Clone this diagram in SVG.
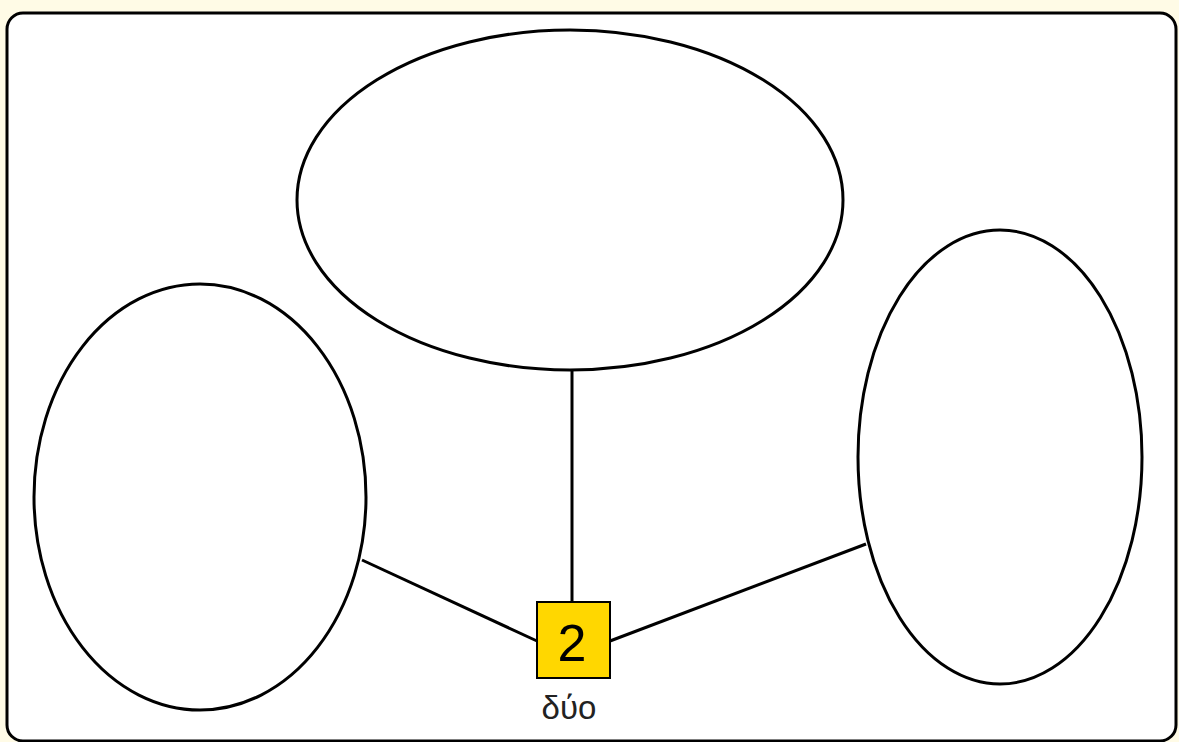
<svg xmlns="http://www.w3.org/2000/svg" width="1179" height="742" viewBox="0 0 1179 742">
<style>
.n{fill:#fff;stroke:#000;stroke-width:3}
.c{stroke:#000;stroke-width:3;fill:none}
.t{font-family:"Liberation Sans",Arial,sans-serif;text-anchor:middle}
</style>
<rect x="0" y="0" width="1179" height="742" fill="#fffbe6"/>
<rect x="7" y="13" width="1169" height="728" rx="16" fill="#fff" stroke="#000" stroke-width="3"/>
<g id="connectors">
<line class="c" x1="572" y1="370" x2="572" y2="602"/>
<line class="c" x1="362" y1="560" x2="537" y2="641"/>
<line class="c" x1="610" y1="641" x2="866" y2="544"/>
</g>
<g id="top"><ellipse class="n" cx="570" cy="200" rx="273" ry="170"/></g>
<g id="left"><ellipse class="n" cx="200" cy="497" rx="166" ry="213"/></g>
<g id="right"><ellipse class="n" cx="1000" cy="457" rx="142" ry="227"/></g>
<g id="hub">
<rect x="537" y="602" width="73" height="76" fill="#ffd700" stroke="#000" stroke-width="2"/>
<text class="t" x="572" y="661" font-size="52">2</text>
<text class="t" x="569" y="719" font-size="33" fill="#222">δύο</text>
</g>
</svg>
